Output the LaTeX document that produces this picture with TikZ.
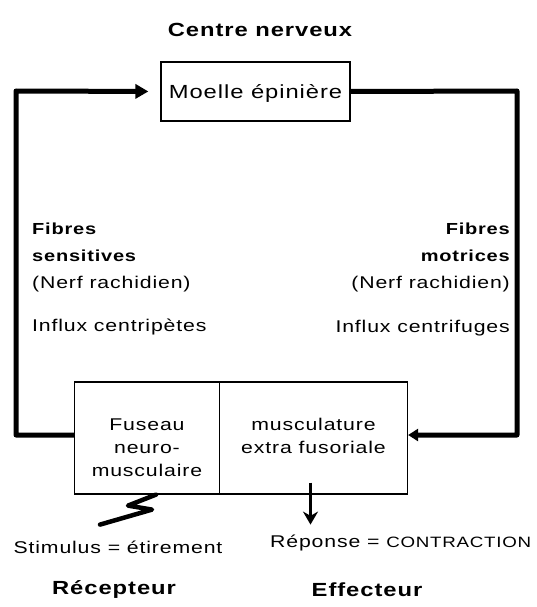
\documentclass[tikz,border=0pt]{standalone}
\usepackage{fontspec}
\setmainfont{Liberation Sans}[FakeStretch=1.25,LetterSpace=5]
\usetikzlibrary{matrix,calc,positioning,arrows.meta}

\tikzset{
  txt/.style={inner sep=0pt, font=\fontsize{17}{27}\selectfont},
  titre/.style={inner sep=0pt, font=\fontsize{19}{23}\selectfont\bfseries},
  nerf/.style={line width=5pt, line join=round},
  boite/.style={draw, line width=1.2pt},
}
\newcommand{\fib}[1]{{\fontsize{16}{27}\selectfont\bfseries #1}}

\begin{document}
\begin{tikzpicture}[x=1pt,y=-1pt]
\useasboundingbox (0,0) rectangle (536,607);

% Centre nerveux
\node[titre, anchor=base] (centre) at (260,37) {Centre nerveux};
\node[boite, inner sep=0pt, font=\fontsize{19}{23}\selectfont, text height=17pt, text depth=2pt,
      minimum width=189pt, minimum height=59pt] (moelle) at (255.5,91.5) {Moelle épinière};

% Recepteur / effecteur
\matrix (muscle) [matrix of nodes,
                  nodes={boite, inner sep=0pt, font=\fontsize{17}{23}\selectfont,
                         minimum height=112pt, text height=12pt, text depth=28pt, anchor=center},
                  column sep=-1.2pt] at (241,438) {
|[minimum width=145pt]| \begin{tabular}[t]{@{}c@{}}Fuseau\\neuro-\\musculaire\end{tabular} &
|[minimum width=188pt]| \begin{tabular}[t]{@{}c@{}}musculature\\extra fusoriale\end{tabular} \\
};

% Fibres
\node[txt, anchor=north west, align=left] (sensitives) at (32,223) {\fib{Fibres}\\\fib{sensitives}\\(Nerf rachidien)};
\node[txt, anchor=base west] (centripetes) at (32,331) {Influx centripètes};
\node[txt, anchor=north east, align=right] (motrices) at (510,223) {\fib{Fibres}\\\fib{motrices}\\(Nerf rachidien)};
\node[txt, anchor=base east] (centrifuges) at (510,332) {Influx centrifuges};

\coordinate (coinhg) at (16,91);
\coordinate (coinhd) at (517,91);

\draw[nerf, -{Triangle[length=13pt,width=14pt]}, shorten >=12pt]
  ($(muscle-1-1.west)+(0,-3)$) -| (coinhg) -- (moelle.west);     % vers la moelle
\draw[nerf, -{Triangle[length=10pt,width=12pt]}]
  (moelle.east) -- (coinhd) |- ($(muscle-1-2.east)+(0,-3)$);      % vers le muscle

% Stimulus et reponse
\draw[line width=4.5pt, line join=round, line cap=round]
  ($(muscle-1-1.south)+(9,0)$) -- ++(-28,11) -- ++(24,4) -- ++(-52,15);
\draw[line width=2.6pt, -{Stealth[length=13pt,width=15pt]}]
  ($(muscle-1-2.south)+(-3,-12)$) -- ++(0,42);

\node[txt, anchor=base] (stimulus) at (118,553) {Stimulus = étirement};
\node[txt, anchor=base west] (reponse) at (270,547) {Réponse = {\fontsize{15}{20}\selectfont CONTRACTION}};
\node[titre, anchor=base] (recepteur) at (114,594) {Récepteur};
\node[titre, anchor=base] (effecteur) at (367,596) {Effecteur};

\end{tikzpicture}
\end{document}
